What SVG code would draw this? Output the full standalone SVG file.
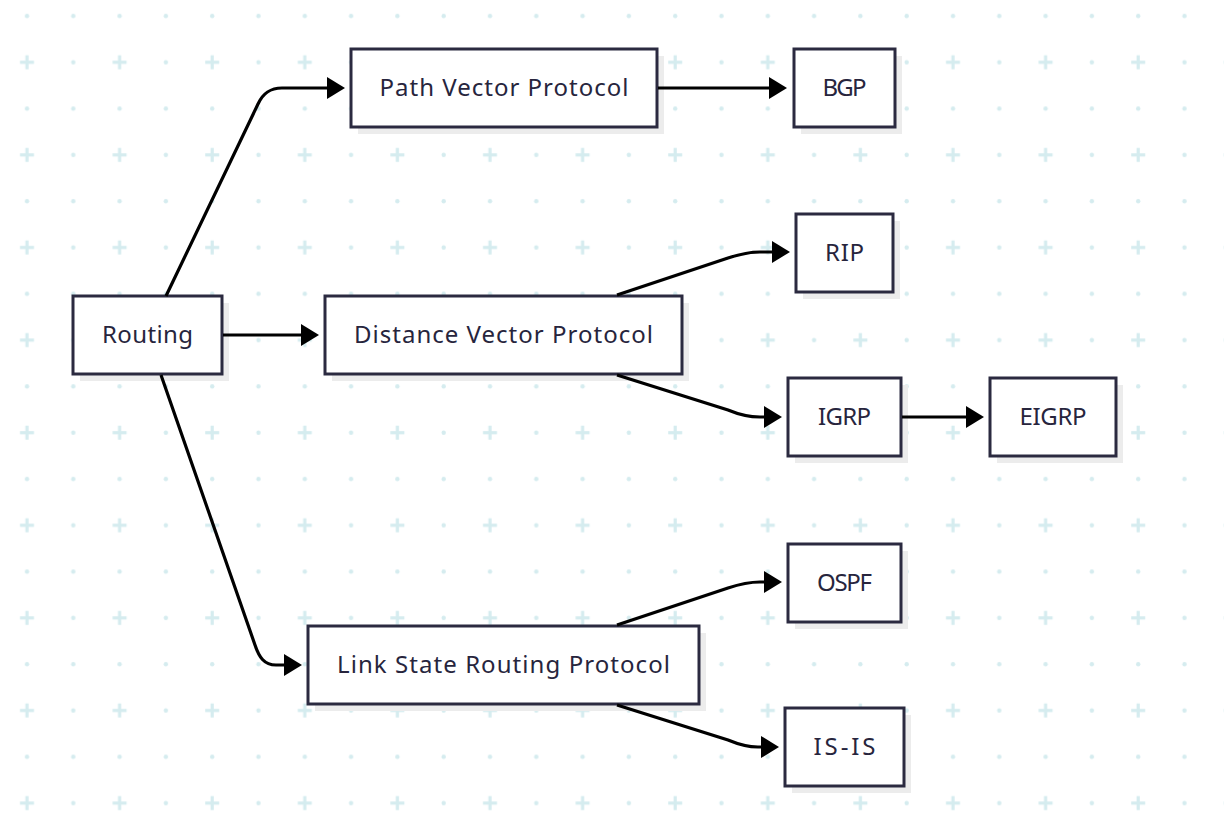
<svg xmlns="http://www.w3.org/2000/svg" width="1224" height="816" viewBox="0 0 1224 816">
<style>
.shadow{fill:#ececec;stroke:none}
.box{fill:#ffffff;stroke:#2b2a40;stroke-width:3}
.lbl{font-family:"Noto Sans","Open Sans",sans-serif;font-size:24px;fill:#27253d;text-anchor:middle}
.edge{fill:none;stroke:#000000;stroke-width:3.2}
.bg{fill:#d5ecef}
</style>
<defs>
<pattern id="grid" patternUnits="userSpaceOnUse" x="3.85" y="-7.15" width="92.6" height="92.6">
<circle class="bg" cx="23.15" cy="23.15" r="2.2"/>
<circle class="bg" cx="69.45" cy="23.15" r="2.2"/>
<circle class="bg" cx="69.45" cy="69.45" r="2.2"/>
<rect class="bg" x="16.15" y="67.85" width="14" height="3.2"/>
<rect class="bg" x="21.55" y="62.45" width="3.2" height="14"/>
</pattern>
<marker id="arr" markerUnits="userSpaceOnUse" viewBox="0 0 18 22" refX="0" refY="11" markerWidth="18" markerHeight="22" orient="auto">
<path d="M0,0 L18,11 L0,22 Z" fill="#000000"/>
</marker>
</defs>
<rect width="1224" height="816" fill="#ffffff"/>
<rect width="1224" height="816" fill="url(#grid)"/>
<g id="routing">
<rect class="shadow" x="80" y="303" width="149" height="78"/>
<rect class="box" x="73" y="296" width="149" height="78"/>
<text class="lbl" x="147.5" y="343" textLength="91" lengthAdjust="spacing">Routing</text>
</g>
<g id="path-vector">
<rect class="shadow" x="358" y="56" width="306" height="78"/>
<rect class="box" x="351" y="49" width="306" height="78"/>
<text class="lbl" x="504" y="96" textLength="249" lengthAdjust="spacing">Path Vector Protocol</text>
</g>
<g id="bgp">
<rect class="shadow" x="801" y="56" width="101" height="78"/>
<rect class="box" x="794" y="49" width="101" height="78"/>
<text class="lbl" x="844.5" y="96" textLength="44" lengthAdjust="spacing">BGP</text>
</g>
<g id="distance-vector">
<rect class="shadow" x="332" y="303" width="357" height="78"/>
<rect class="box" x="325" y="296" width="357" height="78"/>
<text class="lbl" x="503.5" y="343" textLength="299" lengthAdjust="spacing">Distance Vector Protocol</text>
</g>
<g id="rip">
<rect class="shadow" x="803" y="221" width="97" height="78"/>
<rect class="box" x="796" y="214" width="97" height="78"/>
<text class="lbl" x="844.5" y="261" textLength="39" lengthAdjust="spacing">RIP</text>
</g>
<g id="igrp">
<rect class="shadow" x="795" y="385" width="113" height="78"/>
<rect class="box" x="788" y="378" width="113" height="78"/>
<text class="lbl" x="844.5" y="425" textLength="53" lengthAdjust="spacing">IGRP</text>
</g>
<g id="eigrp">
<rect class="shadow" x="997" y="385" width="126" height="78"/>
<rect class="box" x="990" y="378" width="126" height="78"/>
<text class="lbl" x="1053" y="425" textLength="67" lengthAdjust="spacing">EIGRP</text>
</g>
<g id="link-state">
<rect class="shadow" x="315" y="633" width="391" height="78"/>
<rect class="box" x="308" y="626" width="391" height="78"/>
<text class="lbl" x="503.5" y="673" textLength="333" lengthAdjust="spacing">Link State Routing Protocol</text>
</g>
<g id="ospf">
<rect class="shadow" x="795" y="551" width="113" height="78"/>
<rect class="box" x="788" y="544" width="113" height="78"/>
<text class="lbl" x="844.5" y="591" textLength="55" lengthAdjust="spacing">OSPF</text>
</g>
<g id="is-is">
<rect class="shadow" x="792" y="715" width="119" height="78"/>
<rect class="box" x="785" y="708" width="119" height="78"/>
<text class="lbl" x="844.5" y="755" textLength="62" lengthAdjust="spacing">IS-IS</text>
</g>
<g id="connectors">
<path class="edge" marker-end="url(#arr)" d="M166,296 L258,104 C263,93 270,88 282,88 L327,88"/>
<path class="edge" marker-end="url(#arr)" d="M223,335 L301,335"/>
<path class="edge" marker-end="url(#arr)" d="M161,375 L255,645 C259,657 264,665 276,665 L284,665"/>
<path class="edge" marker-end="url(#arr)" d="M658,88 L769,88"/>
<path class="edge" marker-end="url(#arr)" d="M617,295 L728,258 C740,254 750,252 760,252 L772,252"/>
<path class="edge" marker-end="url(#arr)" d="M617,375 L728,410 C740,415 750,417 760,417 L764,417"/>
<path class="edge" marker-end="url(#arr)" d="M902,417 L966,417"/>
<path class="edge" marker-end="url(#arr)" d="M617,625 L728,588 C740,584 750,582 760,582 L764,582"/>
<path class="edge" marker-end="url(#arr)" d="M617,705 L728,740 C740,745 750,747 758,747 L761,747"/>
</g>
</svg>
